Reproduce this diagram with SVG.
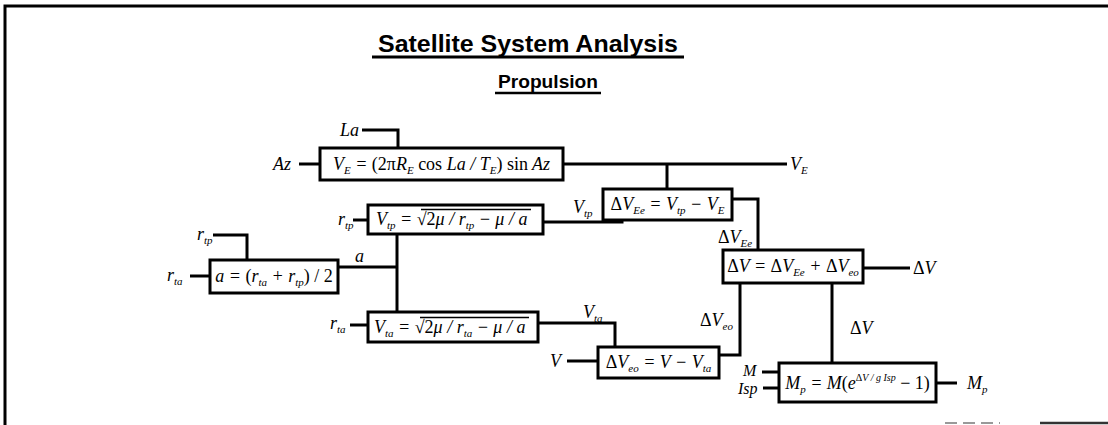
<svg xmlns="http://www.w3.org/2000/svg" width="1108" height="425" viewBox="0 0 1108 425">
<style>
.bx{fill:#fff;stroke:#000;stroke-width:3}
.ln{fill:none;stroke:#000;stroke-width:3}
.ov{fill:none;stroke:#000;stroke-width:1.3}
.eq{font-family:"Liberation Serif",serif;font-style:italic;font-size:18px;fill:#000}
.lb{font-family:"Liberation Serif",serif;font-style:italic;font-size:18px;fill:#000}
.sm{font-size:16px}
.up{font-style:normal}
.sub{font-size:11px;baseline-shift:-4px}
.sup{font-size:10px;baseline-shift:8px}
.ttl{font-family:"Liberation Sans",Arial,sans-serif;font-weight:bold;fill:#000}
</style>
<rect x="0" y="0" width="1108" height="425" fill="#fff"/>
<g id="frame">
<path class="ln" d="M5,425 V6 H1108"/>
<line x1="945" y1="423" x2="1000" y2="423" stroke="#999" stroke-width="2" stroke-dasharray="12 6"/>
<line x1="1040" y1="423" x2="1108" y2="423" stroke="#333" stroke-width="2.5"/>
</g>
<g id="title">
<text class="ttl" x="378" y="52" font-size="24" textLength="300" lengthAdjust="spacingAndGlyphs">Satellite System Analysis</text>
<line x1="372" y1="57" x2="684" y2="57" stroke="#000" stroke-width="3"/>
<text class="ttl" x="498" y="88" font-size="18" textLength="100" lengthAdjust="spacingAndGlyphs">Propulsion</text>
<line x1="495" y1="93" x2="601" y2="93" stroke="#000" stroke-width="2.5"/>
</g>
<g id="connectors">
<path class="ln" d="M362,130 H398 V148"/>
<path class="ln" d="M299,164 H320"/>
<path class="ln" d="M563,164 H787"/>
<path class="ln" d="M667,164 V189"/>
<path class="ln" d="M732,199 H758 V250"/>
<path class="ln" d="M543,222 H622 V220"/>
<path class="ln" d="M353,220 H368"/>
<path class="ln" d="M397,234 V312"/>
<path class="ln" d="M338,267 H397"/>
<path class="ln" d="M213,235 H247 V260"/>
<path class="ln" d="M190,276 H210"/>
<path class="ln" d="M350,325 H368"/>
<path class="ln" d="M538,323 H615 V347"/>
<path class="ln" d="M567,361 H598"/>
<path class="ln" d="M863,268 H910"/>
<path class="ln" d="M740,283 V355 H719"/>
<path class="ln" d="M832,283 V363"/>
<path class="ln" d="M762,372 H779"/>
<path class="ln" d="M763,388 H779"/>
<path class="ln" d="M936,383 H957"/>
</g>
<g id="labels">
<text class="lb" x="340" y="136">La</text>
<text class="lb" x="273" y="170">Az</text>
<text class="lb" x="790" y="170">V<tspan class="sub">E</tspan></text>
<text class="lb" x="718" y="243"><tspan class="up">Δ</tspan>V<tspan class="sub">Ee</tspan></text>
<text class="lb" x="573" y="213">V<tspan class="sub">tp</tspan></text>
<text class="lb" x="338" y="225">r<tspan class="sub">tp</tspan></text>
<text class="lb" x="355" y="262">a</text>
<text class="lb" x="197" y="240">r<tspan class="sub">tp</tspan></text>
<text class="lb" x="167" y="281">r<tspan class="sub">ta</tspan></text>
<text class="lb" x="330" y="329">r<tspan class="sub">ta</tspan></text>
<text class="lb" x="583" y="318">V<tspan class="sub">ta</tspan></text>
<text class="lb" x="550" y="367">V</text>
<text class="lb" x="913" y="274"><tspan class="up">Δ</tspan>V</text>
<text class="lb" x="700" y="326"><tspan class="up">Δ</tspan>V<tspan class="sub">eo</tspan></text>
<text class="lb" x="850" y="334"><tspan class="up">Δ</tspan>V</text>
<text class="lb sm" x="743" y="376">M</text>
<text class="lb sm" x="738" y="394">Isp</text>
<text class="lb" x="967" y="389">M<tspan class="sub">p</tspan></text>
</g>
<g id="node-ve">
<rect class="bx" x="320" y="148" width="243" height="32"/>
<text class="eq" x="441.5" y="170" text-anchor="middle">V<tspan class="sub">E</tspan> = <tspan class="up">(2π</tspan>R<tspan class="sub">E</tspan> <tspan class="up">cos</tspan> La / T<tspan class="sub">E</tspan><tspan class="up">) sin</tspan> Az</text>
</g>
<g id="node-dvee">
<rect class="bx" x="603" y="189" width="129" height="31"/>
<text class="eq" x="667.5" y="210" text-anchor="middle"><tspan class="up">Δ</tspan>V<tspan class="sub">Ee</tspan> = V<tspan class="sub">tp</tspan> − V<tspan class="sub">E</tspan></text>
</g>
<g id="node-dv">
<rect class="bx" x="723" y="250" width="140" height="33"/>
<text class="eq" x="793" y="272" text-anchor="middle"><tspan class="up">Δ</tspan>V = <tspan class="up">Δ</tspan>V<tspan class="sub">Ee</tspan> + <tspan class="up">Δ</tspan>V<tspan class="sub">eo</tspan></text>
</g>
<g id="node-vtp">
<rect class="bx" x="368" y="205" width="175" height="29"/>
<text class="eq" x="376" y="225">V<tspan class="sub">tp</tspan> = <tspan class="up">√2</tspan>μ / r<tspan class="sub">tp</tspan> − μ / a</text>
<line class="ov" x1="421" y1="209.5" x2="531" y2="209.5"/>
</g>
<g id="node-a">
<rect class="bx" x="210" y="260" width="128" height="33"/>
<text class="eq" x="274" y="282" text-anchor="middle">a = <tspan class="up">(</tspan>r<tspan class="sub">ta</tspan> + r<tspan class="sub">tp</tspan><tspan class="up">) / 2</tspan></text>
</g>
<g id="node-vta">
<rect class="bx" x="368" y="312" width="170" height="30"/>
<text class="eq" x="374" y="333">V<tspan class="sub">ta</tspan> = <tspan class="up">√2</tspan>μ / r<tspan class="sub">ta</tspan> − μ / a</text>
<line class="ov" x1="420" y1="317.5" x2="529" y2="317.5"/>
</g>
<g id="node-dveo">
<rect class="bx" x="598" y="347" width="121" height="31"/>
<text class="eq" x="658.5" y="368" text-anchor="middle"><tspan class="up">Δ</tspan>V<tspan class="sub">eo</tspan> = V − V<tspan class="sub">ta</tspan></text>
</g>
<g id="node-mp">
<rect class="bx" x="779" y="363" width="157" height="39"/>
<text class="eq" x="857.5" y="389" text-anchor="middle">M<tspan class="sub">p</tspan> = M<tspan class="up">(</tspan>e<tspan class="sup"><tspan class="up">Δ</tspan>V / g Isp</tspan> <tspan class="up">− 1)</tspan></text>
</g>
</svg>
